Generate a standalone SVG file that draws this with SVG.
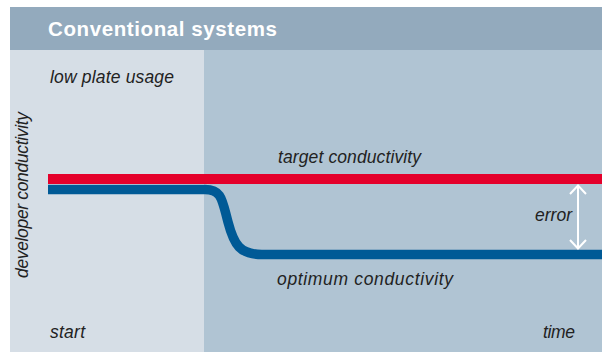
<svg xmlns="http://www.w3.org/2000/svg" width="602" height="352" viewBox="0 0 602 352">
<defs>
<style>
.t{font-family:"Liberation Sans",Arial,sans-serif;font-style:italic;font-size:17.5px;fill:#222}
.h{font-family:"Liberation Sans",Arial,sans-serif;font-weight:bold;font-size:20.5px;fill:#fff}
.ar{fill:none;stroke:#fff;stroke-width:2}
</style>
</defs>
<rect width="602" height="352" fill="#fff"/>
<g id="background">
<rect x="10" y="7" width="592" height="345" fill="#b0c4d3"/>
<rect x="10" y="50" width="194" height="302" fill="#d6dee6"/>
<rect x="10" y="7" width="592" height="43" fill="#93aabd"/>
<text class="h" x="48" y="36" textLength="229" lengthAdjust="spacing">Conventional systems</text>
</g>
<g id="labels">
<text class="t" x="50" y="83" textLength="124" lengthAdjust="spacing">low plate usage</text>
<text class="t" x="50" y="338" textLength="35" lengthAdjust="spacing">start</text>
<text class="t" x="543" y="338" textLength="32" lengthAdjust="spacing">time</text>
<text class="t" transform="translate(28,278) rotate(-90)" textLength="166" lengthAdjust="spacing">developer conductivity</text>
</g>
<g id="target">
<line x1="48" y1="179" x2="602" y2="179" stroke="#e4002b" stroke-width="10"/>
<text class="t" x="278" y="163" textLength="143" lengthAdjust="spacing">target conductivity</text>
</g>
<g id="optimum">
<path d="M48,189.5 H205 C222,189.5 222,200 228,222 C234,245 240,254.5 262,254.5 H602" fill="none" stroke="#005a96" stroke-width="9.5"/>
<text class="t" x="277" y="285" textLength="176" lengthAdjust="spacing">optimum conductivity</text>
</g>
<g id="connectors">
<line class="ar" x1="578" y1="185" x2="578" y2="249"/>
<path class="ar" d="M570,194 L578,185.5 L586,194"/>
<path class="ar" d="M570,240 L578,248.5 L586,240"/>
<text class="t" x="535" y="221" textLength="37" lengthAdjust="spacing">error</text>
</g>
</svg>
